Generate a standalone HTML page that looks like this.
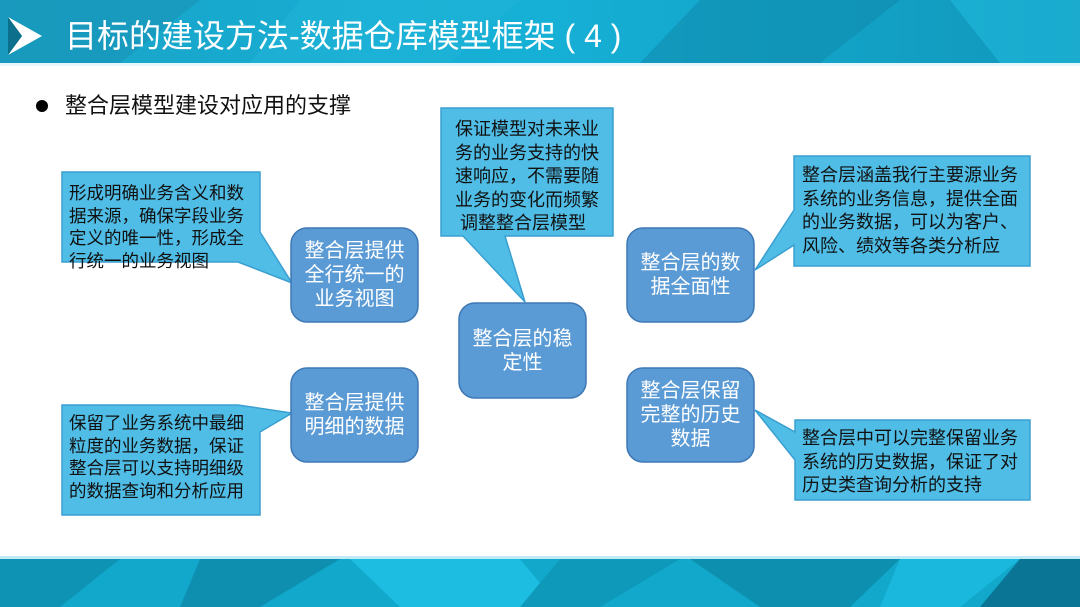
<!DOCTYPE html>
<html><head><meta charset="utf-8">
<style>
*{margin:0;padding:0;box-sizing:border-box}
body{width:1080px;height:607px;overflow:hidden;background:#fff;position:relative;font-family:"Liberation Sans","Noto Sans CJK SC",sans-serif}
.t{position:absolute;color:#111;font-size:17.5px;line-height:22.5px;text-align:left;white-space:nowrap}
.n{position:absolute;display:flex;align-items:center;justify-content:center;text-align:center;color:#fff;font-size:20px;line-height:24px;white-space:nowrap}
</style></head><body>
<svg width="1080" height="607" style="position:absolute;left:0;top:0">
<defs>
<linearGradient id="g1" x1="0" y1="0" x2="1" y2="0"><stop offset="0" stop-color="#1aa4c8"/><stop offset="0.5" stop-color="#16b0d6"/><stop offset="1" stop-color="#1097ba"/></linearGradient>
</defs>
<rect x="0" y="0" width="1080" height="63" fill="url(#g1)"/>
<polygon points="0,0 200,0 120,63 0,63" fill="#1793b6" opacity="0.6"/>
<polygon points="300,0 520,0 450,63 250,63" fill="#22b5da" opacity="0.5"/>
<polygon points="700,0 900,0 820,63 640,63" fill="#0e86a8" opacity="0.5"/>
<polygon points="950,0 1080,0 1080,63 1000,63" fill="#23c0e4" opacity="0.5"/>
<rect x="0" y="63" width="1080" height="3" fill="#e6f6fb"/>
<polygon points="8,17 42,36 8,55 22,36" fill="#fff"/>
<polygon points="8,17 22,36 8,55" fill="#0c6f8c"/>
<rect x="0" y="556" width="1080" height="3" fill="#bfeaf6"/>
<rect x="0" y="559" width="1080" height="48" fill="#12a8cc"/>
<polygon points="0,559 120,559 60,607 0,607" fill="#0f93b5"/>
<polygon points="200,559 340,559 260,607 180,607" fill="#0e8fb0"/>
<polygon points="350,559 520,559 560,607 400,607" fill="#1cbde0"/>
<polygon points="560,559 680,559 600,607 520,607" fill="#0e98ba"/>
<polygon points="690,559 900,559 850,607 760,607" fill="#0d8fb0"/>
<polygon points="900,559 1020,559 960,607 880,607" fill="#1ab8dc"/>
<polygon points="1020,559 1080,559 1080,607 980,607" fill="#0a7594"/>
<g fill="#4fbde6" stroke="#3a9fd0" stroke-width="1.5">
<polygon points="62,172 260,172 260,232 292,283 238,262 62,262"/>
<polygon points="441,108 613,108 613,236 505,236 525,302 463,236 441,236"/>
<polygon points="794,156 1030,156 1030,266 794,266 794,245 755,270 794,210"/>
<polygon points="62,405 238,405 292,413 260,432 260,515 62,515"/>
<polygon points="795,420 1030,420 1030,500 795,500 795,460 755,410 795,432"/>
</g>
<g fill="#5b9bd5" stroke="#3d78b5" stroke-width="1.5">
<rect x="291" y="228" width="127" height="94" rx="16"/>
<rect x="291" y="368" width="127" height="94" rx="16"/>
<rect x="459" y="303" width="127" height="95" rx="16"/>
<rect x="627" y="228" width="127" height="94" rx="16"/>
<rect x="627" y="368" width="127" height="94" rx="16"/>
</g>
<circle cx="42" cy="106" r="6" fill="#000"/>
</svg>
<div style="position:absolute;left:65px;top:14px;color:#fff;font-size:32px;line-height:44px;white-space:nowrap">目标的建设方法-数据仓库模型框架 ( 4 )</div>
<div style="position:absolute;left:65px;top:91px;color:#111;font-size:22px;line-height:30px;white-space:nowrap">整合层模型建设对应用的支撑</div>
<div class="t" style="left:69px;top:182px">形成明确业务含义和数<br>据来源，确保字段业务<br>定义的唯一性，形成全<br>行统一的业务视图</div>
<div class="t" style="left:455px;top:118px;font-size:18px;line-height:23.5px">保证模型对未来业<br>务的业务支持的快<br>速响应，不需要随<br>业务的变化而频繁<br>&nbsp;调整整合层模型</div>
<div class="t" style="left:802px;top:164px;font-size:18px;line-height:23.5px">整合层涵盖我行主要源业务<br>系统的业务信息，提供全面<br>的业务数据，可以为客户、<br>风险、绩效等各类分析应</div>
<div class="t" style="left:69px;top:412px">保留了业务系统中最细<br>粒度的业务数据，保证<br>整合层可以支持明细级<br>的数据查询和分析应用</div>
<div class="t" style="left:802px;top:427px;font-size:18px;line-height:23.5px">整合层中可以完整保留业务<br>系统的历史数据，保证了对<br>历史类查询分析的支持</div>
<div class="n" style="left:291px;top:228px;width:127px;height:94px">整合层提供<br>全行统一的<br>业务视图</div>
<div class="n" style="left:291px;top:368px;width:127px;height:94px">整合层提供<br>明细的数据</div>
<div class="n" style="left:459px;top:303px;width:127px;height:95px">整合层的稳<br>定性</div>
<div class="n" style="left:627px;top:228px;width:127px;height:94px">整合层的数<br>据全面性</div>
<div class="n" style="left:627px;top:368px;width:127px;height:94px">整合层保留<br>完整的历史<br>数据</div>
</body></html>
